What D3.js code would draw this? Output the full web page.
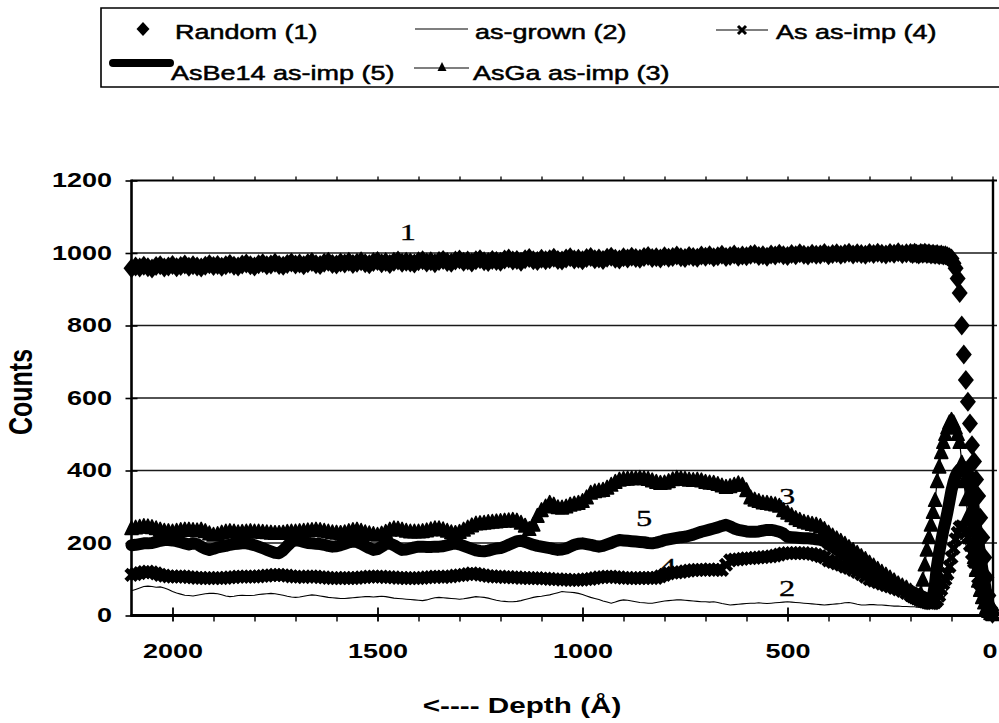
<!DOCTYPE html>
<html>
<head>
<meta charset="utf-8">
<script src="https://cdn.jsdelivr.net/npm/d3@7"></script>
<style>
  html, body { margin: 0; padding: 0; background: #fff; }
  svg { display: block; }
</style>
</head>
<body>
<svg id="chart" width="999" height="723"></svg>
<script>
// ---- depth channels (Å): 10 Å steps in the bulk, 5 Å steps near the surface ----
const depthBulk = [
  2100,2090,2080,2070,2060,2050,2040,2030,2020,2010,
  2000,1990,1980,1970,1960,1950,1940,1930,1920,1910,
  1900,1890,1880,1870,1860,1850,1840,1830,1820,1810,
  1800,1790,1780,1770,1760,1750,1740,1730,1720,1710,
  1700,1690,1680,1670,1660,1650,1640,1630,1620,1610,
  1600,1590,1580,1570,1560,1550,1540,1530,1520,1510,
  1500,1490,1480,1470,1460,1450,1440,1430,1420,1410,
  1400,1390,1380,1370,1360,1350,1340,1330,1320,1310,
  1300,1290,1280,1270,1260,1250,1240,1230,1220,1210,
  1200,1190,1180,1170,1160,1150,1140,1130,1120,1110,
  1100,1090,1080,1070,1060,1050,1040,1030,1020,1010,
  1000,990,980,970,960,950,940,930,920,910,
  900,890,880,870,860,850,840,830,820,810,
  800,790,780,770,760,750,740,730,720,710,
  700,690,680,670,660,650,640,630,620,610,
  600,590,580,570,560,550,540,530,520,510,
  500,490,480,470,460,450,440,430,420,410,
  400,390,380,370,360,350,340,330,320,310,
  300,290,280,270,260,250,240,230,220,210,
  200
];
const depthSurface = [
  195,190,185,180,175,170,165,160,155,150,
  145,140,135,130,125,120,115,110,105,100,
  95,90,85,80,75,70,65,60,55,50,
  45,40,35,30,25,20,15,10,5,0
];

// ---- Random (1) ----
const randomBulk = [
  958,963,960,965,961,957,964,966,960,963,
  967,961,964,968,962,966,963,960,965,969,
  964,967,962,966,970,965,963,968,971,966,
  963,969,972,966,968,973,967,965,970,974,
  968,971,966,972,975,969,967,973,976,970,
  968,974,971,976,970,973,977,972,969,975,
  978,972,975,970,976,979,973,976,974,971,
  977,980,974,977,972,978,981,975,973,979,
  982,976,979,974,980,983,977,975,981,978,
  976,982,985,979,981,976,983,986,980,978,
  984,980,983,987,981,979,985,988,982,984,
  980,986,989,983,985,981,987,990,984,982,
  988,985,990,986,984,989,992,986,988,985,
  991,987,989,993,988,986,992,989,987,993,
  990,994,988,991,995,989,992,996,990,993,
  991,995,997,992,994,990,996,993,998,994,
  992,997,994,999,995,993,998,995,996,1000,
  994,997,999,995,998,1001,996,999,997,995,
  1000,997,1001,998,996,1000,998,1002,997,999,
  1000
];
const randomSurface = [
  997,1001,998,996,1000,998,1001,997,999,996,
  998,995,997,994,996,993,994,991,988,985,
  972,958,930,890,800,720,650,590,530,470,
  425,375,330,270,215,160,105,55,20,5
];

// ---- as-grown (2) ----
const grownBulk = [
  68,72,76,80,81,80,78,79,76,72,
  66,62,59,56,55,54,56,58,60,61,
  61,60,57,54,52,53,55,56,55,55,
  56,58,59,60,61,60,58,56,53,51,
  50,51,53,55,57,56,54,52,50,49,
  48,47,47,48,49,50,51,52,52,51,
  52,53,52,50,48,47,46,45,44,43,
  42,41,43,46,49,50,49,48,47,46,
  45,46,48,50,52,51,50,48,45,42,
  40,39,38,38,39,41,44,47,50,52,
  53,55,57,60,63,66,65,64,63,61,
  58,54,50,47,44,40,37,34,37,41,
  43,42,40,38,36,35,34,34,36,38,
  40,41,42,43,43,42,41,40,39,38,
  38,37,38,36,33,31,29,30,31,32,
  33,34,34,35,34,33,34,35,36,37,
  38,37,36,35,34,33,32,31,30,29,
  30,31,32,33,35,36,34,31,29,29,
  30,30,29,29,28,27,26,26,25,25,
  24
];
const grownSurface = [
  24,24,23,23,22,22,21,21,20,20,
  22,25,28,30,35,45,60,80,105,130,
  155,178,195,207,213,208,195,178,158,140,
  122,107,90,74,58,43,30,18,9,4
];

// ---- AsGa as-imp (3) ----
const asgaBulk = [
  240,242,244,246,245,243,240,236,233,232,
  231,233,235,236,236,235,234,236,232,226,
  222,224,228,231,232,231,229,230,231,232,
  231,231,230,229,228,227,227,228,230,231,
  231,232,233,234,235,236,235,233,231,229,
  228,227,229,232,235,236,233,229,226,224,
  222,225,230,236,240,239,236,233,231,231,
  231,232,234,237,240,240,237,233,229,227,
  230,236,242,248,253,254,255,257,258,259,
  260,261,262,263,261,255,247,238,250,274,
  290,300,310,305,298,297,300,305,308,310,
  315,325,338,342,344,346,352,360,368,374,
  376,377,378,378,379,378,376,372,368,365,
  366,370,375,379,378,376,374,373,374,372,
  368,366,365,362,358,354,356,360,364,360,
  345,325,319,315,311,310,308,306,302,290,
  283,276,268,263,258,255,252,250,246,238,
  228,220,212,205,197,188,180,172,163,155,
  145,137,128,120,112,104,96,88,82,76,
  68
];
const asgaSurface = [
  62,58,55,52,60,98,140,181,215,250,
  285,318,370,410,450,478,500,518,532,539,
  532,518,500,478,421,370,320,275,235,195,
  160,125,95,70,50,35,22,12,6,3
];

// ---- As as-imp (4) ----
const asBulk = [
  112,114,117,120,121,119,116,112,110,108,
  107,107,108,107,106,105,104,104,103,103,
  103,104,103,104,105,106,107,107,107,107,
  107,108,109,110,111,112,112,111,110,108,
  107,107,106,107,108,107,106,105,104,103,
  103,103,104,103,103,104,105,106,107,107,
  107,107,106,106,105,104,104,103,103,103,
  103,104,105,106,107,107,106,107,108,110,
  111,112,114,116,115,113,111,109,108,107,
  107,106,106,105,105,104,104,103,103,103,
  102,102,101,100,100,99,99,98,98,98,
  99,100,101,103,105,106,107,107,106,105,
  104,104,103,103,103,104,104,103,104,108,
  112,116,118,119,120,122,124,125,126,126,
  126,127,126,126,126,140,152,154,155,156,
  158,158,159,160,161,162,163,165,168,171,
  172,172,172,172,172,171,170,167,164,160,
  152,148,144,140,135,131,126,120,114,107,
  100,96,92,88,84,80,76,72,68,62,
  56
];
const asSurface = [
  53,50,47,45,42,40,38,36,35,34,
  34,36,42,55,72,88,100,115,135,160,
  185,210,228,243,246,243,232,215,195,172,
  148,125,105,88,68,50,35,20,10,4
];

// ---- AsBe14 as-imp (5) ----
const asbeBulk = [
  194,195,197,199,199,200,203,206,208,208,
  207,205,202,199,196,199,197,190,184,181,
  184,188,190,192,195,197,198,199,199,197,
  194,190,186,181,177,173,172,180,192,203,
  208,206,203,200,199,198,197,195,192,190,
  191,194,198,202,204,203,198,192,186,181,
  183,190,197,199,194,187,181,182,185,188,
  190,190,189,189,190,190,191,194,197,199,
  196,192,188,184,180,178,177,179,182,185,
  186,190,195,200,205,206,203,199,195,192,
  190,188,186,183,181,182,185,190,195,198,
  199,197,195,192,190,192,196,200,205,208,
  207,206,205,204,203,202,200,199,201,204,
  208,210,212,214,216,217,220,223,227,231,
  234,237,240,243,247,250,246,240,236,234,
  232,231,231,232,234,236,236,234,231,226,
  217,216,215,214,213,213,212,210,209,205,
  195,189,182,175,168,161,153,145,135,127,
  118,111,103,97,91,86,80,76,73,70,
  66
];
const asbeSurface = [
  64,62,59,57,54,52,49,47,45,45,
  55,90,140,175,205,235,258,285,315,345,
  368,385,396,403,407,410,408,395,365,330,
  290,245,205,170,130,95,62,35,15,5
];

// ---- axes ----
const yTicks = [0, 200, 400, 600, 800, 1000, 1200];
const xMajorTicks = [2000, 1500, 1000, 500, 0];
const xMinorTicks = [1900, 1800, 1700, 1600, 1400, 1300, 1200, 1100,
                     900, 800, 700, 600, 400, 300, 200, 100];
const xTopTicks = [2000, 1900, 1800, 1700, 1600, 1500, 1400, 1300, 1200, 1100, 1000,
                   900, 800, 700, 600, 500, 400, 300, 200, 100, 0];

// curve numbers written on the plot (depth Å, counts)
const curveTags = [
  { text: "1", depth: 1426, count: 1058 },
  { text: "3", depth: 501,  count: 332 },
  { text: "5", depth: 850,  count: 269 },
  { text: "4", depth: 791,  count: 139 },
  { text: "2", depth: 501,  count: 76 }
];

// ---------------------------------------------------------------
const SX = 1.35;            // horizontal stretch of the lettering
const INK = "#000";
const SANS = "'Liberation Sans', Arial, sans-serif";
const svg = d3.select("#chart");
svg.append("rect").attr("width", 999).attr("height", 723).attr("fill", "#fff");

const x = d3.scaleLinear().domain([2100, 0]).range([131.5, 992.5]);
const y = d3.scaleLinear().domain([0, 1200]).range([615.5, 180.5]);
const xL = x.range()[0], xR = 993, yB = y(0), yT = y(1200);

const depth = depthBulk.concat(depthSurface);
const pts = (bulk, surf) => {
  const c = bulk.concat(surf);
  return depth.map((d, i) => [d, c[i]]);
};
const random = pts(randomBulk, randomSurface);
const grown = pts(grownBulk, grownSurface);
const asga = pts(asgaBulk, asgaSurface);
const asImp = pts(asBulk, asSurface);
const asbe = pts(asbeBulk, asbeSurface);

// gridlines
svg.append("g").selectAll("line")
  .data(yTicks.filter(t => t > 0 && t < 1200))
  .join("line")
  .attr("x1", xL).attr("x2", 997)
  .attr("y1", d => y(d)).attr("y2", d => y(d))
  .attr("stroke", "#1a1a1a").attr("stroke-width", 1.3);

// frame: top and right borders
svg.append("line").attr("x1", xL).attr("x2", 997).attr("y1", yT).attr("y2", yT)
  .attr("stroke", INK).attr("stroke-width", 2);
svg.append("line").attr("x1", xR).attr("x2", xR).attr("y1", yT - 1).attr("y2", yB)
  .attr("stroke", INK).attr("stroke-width", 2.4);

// top border ticks
const topAxis = svg.append("g").attr("transform", `translate(0,${yT})`)
  .call(d3.axisTop(x).tickValues(xTopTicks).tickSize(4).tickFormat(""));
topAxis.select(".domain").remove();
topAxis.selectAll("line").attr("stroke", INK).attr("stroke-width", 1.3);

// bottom axis
const xAxisG = svg.append("g").attr("transform", `translate(0,${yB})`)
  .call(d3.axisBottom(x).tickValues(xMajorTicks).tickSize(6).tickPadding(22)
    .tickFormat(d3.format("d")));
xAxisG.select(".domain").remove();
xAxisG.selectAll(".tick line").attr("y1", -8).attr("stroke", INK).attr("stroke-width", 1.8);
xAxisG.selectAll(".tick text")
  .attr("fill", INK)
  .attr("x", d => d === 0 ? -3 / SX : 0)
  .style("font-family", SANS)
  .style("font-size", "20px").style("font-weight", "bold")
  .attr("transform", `scale(${SX},1)`);

const xMinorG = svg.append("g").attr("transform", `translate(0,${yB})`)
  .call(d3.axisBottom(x).tickValues(xMinorTicks).tickSize(6).tickFormat(""));
xMinorG.select(".domain").remove();
xMinorG.selectAll("line").attr("stroke", INK).attr("stroke-width", 1.4);

// left axis
const yAxisG = svg.append("g").attr("transform", `translate(${xL},0)`)
  .call(d3.axisLeft(y).tickValues(yTicks).tickSize(6).tickFormat(d3.format("d")));
yAxisG.select(".domain").remove();
yAxisG.selectAll(".tick line").attr("x1", 6).attr("stroke", INK).attr("stroke-width", 1.6);
yAxisG.selectAll(".tick text")
  .attr("x", -19.5 / SX)
  .attr("fill", INK)
  .style("font-family", SANS)
  .style("font-size", "20px").style("font-weight", "bold")
  .attr("transform", `scale(${SX},1)`);

// axis lines
svg.append("line").attr("x1", xL).attr("x2", xL).attr("y1", yT - 1).attr("y2", yB + 1)
  .attr("stroke", INK).attr("stroke-width", 2.6);
svg.append("line").attr("x1", xL - 1).attr("x2", 997).attr("y1", yB).attr("y2", yB)
  .attr("stroke", INK).attr("stroke-width", 3);

// axis titles
svg.append("text")
  .attr("transform", `translate(20,392) scale(${SX},1) rotate(-90)`)
  .attr("text-anchor", "middle").attr("dy", "0.35em")
  .style("font-family", SANS)
  .style("font-size", "25px").style("font-weight", "bold")
  .attr("fill", INK).text("Counts");
svg.append("text")
  .attr("transform", `translate(522,713) scale(${SX},1)`)
  .attr("text-anchor", "middle")
  .style("font-family", SANS)
  .style("font-size", "22px").style("font-weight", "bold")
  .attr("fill", INK).text("<---- Depth (Å)");

// ---- series ----
const line = d3.line().x(d => x(d[0])).y(d => y(d[1]));
const plot = svg.append("g");

const diamond = "M0,-10L8,0L0,10L-8,0Z";
const triangle = "M0,-7.5L6.5,6L-6.5,6Z";
const cross = "M-5.5,-5.5L5.5,5.5M-5.5,5.5L5.5,-5.5";

// as-grown (2): thin line
plot.append("path").datum(grown).attr("d", line)
  .attr("fill", "none").attr("stroke", INK).attr("stroke-width", 1.1);

// As as-imp (4): line with x markers
plot.append("path").datum(asImp).attr("d", line)
  .attr("fill", "none").attr("stroke", INK).attr("stroke-width", 1.2);
plot.append("g").selectAll("path").data(asImp).join("path")
  .attr("d", cross)
  .attr("transform", d => `translate(${x(d[0])},${y(d[1])})`)
  .attr("fill", "none").attr("stroke", INK).attr("stroke-width", 4.5);

// AsBe14 as-imp (5): heavy line
plot.append("path").datum(asbe).attr("d", line)
  .attr("fill", "none").attr("stroke", INK).attr("stroke-width", 12)
  .attr("stroke-linejoin", "round").attr("stroke-linecap", "round");

// AsGa as-imp (3): line with triangle markers
plot.append("path").datum(asga).attr("d", line)
  .attr("fill", "none").attr("stroke", INK).attr("stroke-width", 1.2);
plot.append("g").selectAll("path").data(asga).join("path")
  .attr("d", triangle)
  .attr("transform", d => `translate(${x(d[0])},${y(d[1])})`)
  .attr("fill", INK).attr("stroke", INK).attr("stroke-width", 1.6)
  .attr("stroke-linejoin", "round");

// Random (1): diamond markers
plot.append("g").selectAll("path").data(random).join("path")
  .attr("d", diamond)
  .attr("transform", d => `translate(${x(d[0])},${y(d[1])})`)
  .attr("fill", INK);

// curve numbers
svg.append("g").selectAll("text").data(curveTags).join("text")
  .attr("transform", d => `translate(${x(d.depth)},${y(d.count)}) scale(${SX},1)`)
  .attr("text-anchor", "middle").attr("dy", "0.35em")
  .style("font-family", "'Liberation Serif', 'Times New Roman', serif")
  .style("font-size", "24px")
  .attr("fill", INK).attr("stroke", INK).attr("stroke-width", 0.3)
  .text(d => d.text);

// ---- legend ----
const lg = svg.append("g");
lg.append("path").attr("d", "M1010,8H101V87H1010")
  .attr("fill", "none").attr("stroke", INK).attr("stroke-width", 1.6);

const legendText = (tx, ty, str) => lg.append("text")
  .attr("transform", `translate(${tx},${ty}) scale(${SX},1)`)
  .style("font-family", SANS)
  .style("font-size", "20px")
  .attr("fill", INK).attr("stroke", INK).attr("stroke-width", 0.5)
  .text(str);

// Random (1)
lg.append("path").attr("d", "M0,-7L6.5,0L0,7L-6.5,0Z").attr("transform", "translate(143,29)").attr("fill", INK);
legendText(175, 39, "Random (1)");
// as-grown (2)
lg.append("line").attr("x1", 415).attr("x2", 468).attr("y1", 29).attr("y2", 29)
  .attr("stroke", INK).attr("stroke-width", 1.1);
legendText(475, 39, "as-grown (2)");
// As as-imp (4)
lg.append("line").attr("x1", 716).attr("x2", 768).attr("y1", 30).attr("y2", 30)
  .attr("stroke", INK).attr("stroke-width", 1.2);
lg.append("path").attr("d", "M-4,-4L4,4M-4,4L4,-4").attr("transform", "translate(742,30)")
  .attr("fill", "none").attr("stroke", INK).attr("stroke-width", 3);
legendText(776, 39, "As as-imp (4)");
// AsBe14 as-imp (5)
lg.append("line").attr("x1", 113).attr("x2", 170).attr("y1", 63).attr("y2", 63)
  .attr("stroke", INK).attr("stroke-width", 8).attr("stroke-linecap", "round");
legendText(171, 80, "AsBe14 as-imp (5)");
// AsGa as-imp (3)
lg.append("line").attr("x1", 414).attr("x2", 469).attr("y1", 68).attr("y2", 68)
  .attr("stroke", INK).attr("stroke-width", 1.2);
lg.append("path").attr("d", "M0,-5L4.5,4L-4.5,4Z").attr("transform", "translate(442,67)")
  .attr("fill", INK);
legendText(473, 80, "AsGa as-imp (3)");
</script>
</body>
</html>
